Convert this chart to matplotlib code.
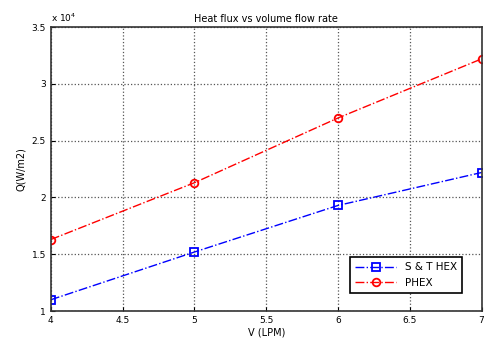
import matplotlib
matplotlib.use("Agg")
import matplotlib.pyplot as plt

flow_lpm = [4, 5, 6, 7]
q_st_hex = [1.10e4, 1.52e4, 1.93e4, 2.22e4]
q_phex = [1.63e4, 2.13e4, 2.70e4, 3.22e4]
x_ticks = [4, 4.5, 5, 5.5, 6, 6.5, 7]
y_ticks = [1, 1.5, 2, 2.5, 3, 3.5]

fig = plt.figure(figsize=(4.84, 3.43), dpi=100)
ax = fig.add_axes([0.105, 0.093, 0.89, 0.828])

ax.plot(flow_lpm, [v / 1e4 for v in q_st_hex], "-.", color="blue", marker="s",
        mfc="none", ms=5.5, mew=1.3, lw=1, label="S & T HEX")
ax.plot(flow_lpm, [v / 1e4 for v in q_phex], "-.", color="red", marker="o",
        mfc="none", ms=5.5, mew=1.3, lw=1, label="PHEX")

ax.set_xlim(4, 7)
ax.set_ylim(1, 3.5)
ax.set_xticks(x_ticks)
ax.set_xticklabels([f"{t:g}" for t in x_ticks])
ax.set_yticks(y_ticks)
ax.set_yticklabels([f"{t:g}" for t in y_ticks])
ax.tick_params(labelsize=6.5, direction="in", length=3)
ax.grid(True, linestyle=":", color="#555555", lw=0.9)
for s in ax.spines.values():
    s.set_linewidth(1.2)
    s.set_color("#333333")

ax.set_title("Heat flux vs volume flow rate", fontsize=7, pad=4)
ax.set_xlabel("V (LPM)", fontsize=7, labelpad=2)
ax.set_ylabel("Q(W/m2)", fontsize=7, labelpad=4)
ax.text(0.0, 1.01, r"x 10$^4$", transform=ax.transAxes, fontsize=6.5,
        ha="left", va="bottom")

leg = ax.legend(loc="lower right", fontsize=7.5, fancybox=False,
                edgecolor="black", framealpha=1, handlelength=4,
                borderpad=0.5, labelspacing=0.5,
                bbox_to_anchor=(0.967, 0.046))
leg.get_frame().set_linewidth(1.2)

fig.savefig("out.png", dpi=100)
